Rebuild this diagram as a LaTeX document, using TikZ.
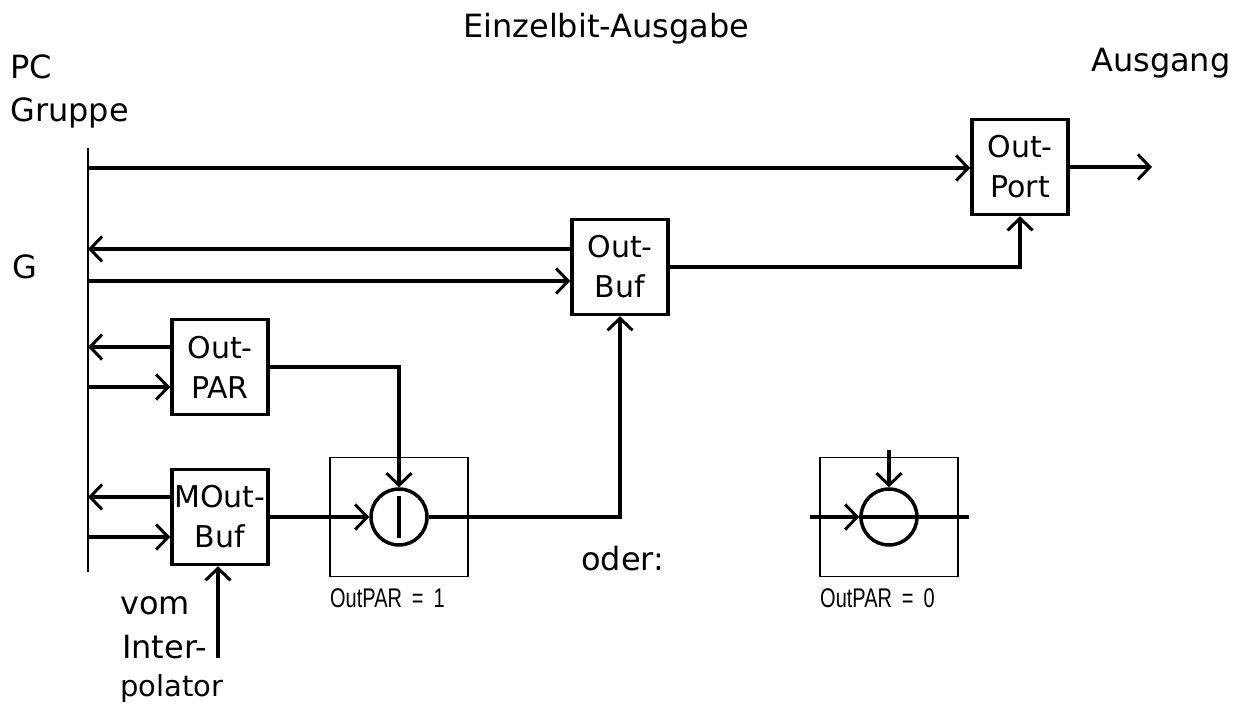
\documentclass[tikz,border=0pt]{standalone}
\usepackage{fontspec}
\usetikzlibrary{arrows.meta,calc}
\setmainfont{DejaVu Sans}
\newfontfamily\thinfont[FakeStretch=0.74,WordSpace=1.8]{Liberation Sans}
\begin{document}
\begin{tikzpicture}[x=1pt, y=-1pt,
    main/.style = {draw, line width=3.5pt, minimum width=96pt, minimum height=95pt, inner sep=0pt, align=center, font=\fontsize{30}{40}\selectfont},
    txt/.style = {anchor=west, inner sep=0pt, font=\fontsize{32}{40}\selectfont},
    frm/.style = {draw, line width=1.5pt, minimum width=138pt, minimum height=119pt, inner sep=0pt},
    sig/.style = {draw, circle, line width=3.5pt, minimum size=56pt, inner sep=0pt},
    note/.style = {anchor=west, inner sep=0pt, font=\thinfont\fontsize{27}{30}\selectfont},
    wire/.style = {line width=3.5pt},
    arr/.style = {line width=3.5pt, -{Straight Barb[length=12pt,width=25pt,line width=3pt]}}]
    \useasboundingbox (0,0) rectangle (1245,704);
    % boxes
    \node[main] (outport) at (1020,167) {Out-\\Port};
    \node[main] (outbuf) at (620,267) {Out-\\Buf};
    \node[main] (outpar) at (220,367) {Out-\\PAR};
    \node[main] (moutbuf) at (220,517) {MOut-\\Buf};
    \node[frm] (frame1) at (399,517) {};
    \node[frm] (frame0) at (889,517) {};
    \node[sig] (sig1) at (399,517) {};
    \node[sig] (sig0) at (889,517) {};
    % free ends
    \coordinate (bustop) at (88,148);
    \coordinate (busend) at (88,572);
    \coordinate (g1) at (88,168);
    \coordinate (g2) at (88,249);
    \coordinate (g3) at (88,281);
    \coordinate (g4) at (88,347);
    \coordinate (g5) at (88,387);
    \coordinate (g6) at (88,497);
    \coordinate (g7) at (88,537);
    \coordinate (ausg) at (1152,167);
    \coordinate (interp) at (218,658);
    \coordinate (in0) at (810,517);
    \coordinate (out0) at (969,517);
    \coordinate (par0) at (889,450);
    \coordinate (strichA) at (399,496);
    \coordinate (strichB) at (399,538);
    % bus and wires
    \draw[line width=2.5pt] (bustop)--(busend);
    \draw[arr] (g1)--(g1 -| outport.west);
    \draw[arr] (g2 -| outbuf.west)--(g2);
    \draw[arr] (g3)--(g3 -| outbuf.west);
    \draw[arr] (g4 -| outpar.west)--(g4);
    \draw[arr] (g5)--(g5 -| outpar.west);
    \draw[arr] (g6 -| moutbuf.west)--(g6);
    \draw[arr] (g7)--(g7 -| moutbuf.west);
    \draw[arr] (outport.east)--(ausg);
    \draw[arr] (outbuf.east) -| (outport.south);
    \draw[arr] (outpar.east) -| (sig1.north);
    \draw[arr] (moutbuf.east)--(sig1.west);
    \draw[arr] (sig1.east) -| (outbuf.south);
    \draw[arr] (interp)--(interp |- moutbuf.south);
    \draw[wire] (strichA)--(strichB);
    \draw[arr] (in0)--(sig0.west);
    \draw[wire] (sig0.west)--(out0);
    \draw[arr] (par0)--(sig0.north);
    % texts
    \node[txt] (title) at (463,29) {Einzelbit-Ausgabe};
    \node[txt] (pc) at (10,67) {PC};
    \node[txt] (gruppe) at (10,113) {Gruppe};
    \node[txt] (g) at (12,267) {G};
    \node[txt] (ausgang) at (1091,63) {Ausgang};
    \node[txt] (oder) at (581,559) {oder:};
    \node[txt] (vom) at (120,606) {vom};
    \node[txt] (inter) at (122,647) {Inter-};
    \node[txt, font=\fontsize{29}{40}\selectfont] (polator) at (120,688) {polator};
    \node[note] (par1) at (330,598) {OutPAR = 1};
    \node[note] (par2) at (820,598) {OutPAR = 0};
\end{tikzpicture}
\end{document}
